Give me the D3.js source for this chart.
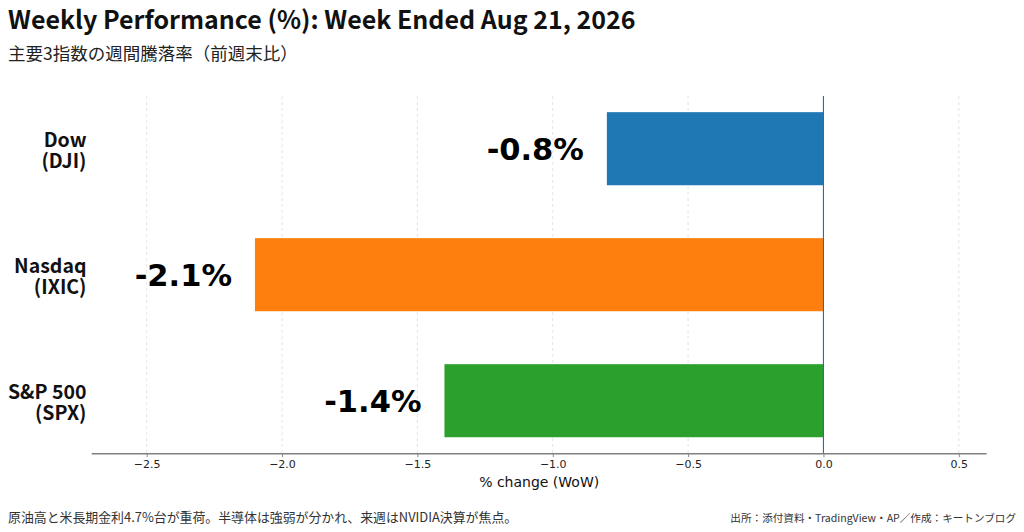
<!DOCTYPE html>
<html><head><meta charset="utf-8">
<script src="https://cdn.jsdelivr.net/npm/d3@7/dist/d3.min.js"></script>
<style>
html,body{margin:0;padding:0;background:#fff;}
svg{display:block;}
</style></head>
<body>
<svg id="chart" width="1024" height="532"></svg>
<script>
const categories = ["Dow|(DJI)", "Nasdaq|(IXIC)", "S&P 500|(SPX)"];
const values = [-0.8, -2.1, -1.4];
const colors = ["#1f77b4", "#ff7f0e", "#2ca02c"];
const xTicks = [-2.5, -2.0, -1.5, -1.0, -0.5, 0.0, 0.5];
const xDomain = [-2.703, 0.603];
const titleText = "Weekly Performance (%): Week Ended Aug 21, 2026";
const subtitleText = "主要3指数の週間騰落率（前週末比）";
const xLabelText = "% change (WoW)";
const noteText = "原油高と米長期金利4.7%台が重荷。半導体は強弱が分かれ、来週はNVIDIA決算が焦点。";
const sourceText = "出所：添付資料・TradingView・AP／作成：キートンブログ";

const svg = d3.select("#chart");
const plot = {left: 91.7, right: 986.7, top: 96, bottom: 453.7};
const CJK = "'Noto Sans CJK JP', 'Noto Sans', sans-serif";
const DV = "'DejaVu Sans', sans-serif";

const x = d3.scaleLinear().domain(xDomain).range([plot.left, plot.right]);
const y = d3.scaleBand().domain(categories).range([85.7, 463.7]).paddingInner(0.42).paddingOuter(0.21);

// grid
svg.append("g").selectAll("line").data(xTicks).join("line")
  .attr("x1", d => x(d)).attr("x2", d => x(d))
  .attr("y1", plot.top).attr("y2", plot.bottom)
  .attr("stroke", "#dddddd").attr("stroke-width", 0.8).attr("stroke-dasharray", "3,3");

// bars
svg.append("g").selectAll("rect").data(values).join("rect")
  .attr("x", d => x(Math.min(0, d)))
  .attr("width", d => Math.abs(x(d) - x(0)))
  .attr("y", (d, i) => y(categories[i]))
  .attr("height", y.bandwidth())
  .attr("fill", (d, i) => colors[i]);

// zero line
svg.append("line")
  .attr("x1", x(0)).attr("x2", x(0)).attr("y1", plot.top).attr("y2", plot.bottom)
  .attr("stroke", "#1f6fb4").attr("stroke-width", 1.1);

// x axis
const axis = d3.axisBottom(x).tickValues(xTicks).tickSize(3.5).tickPadding(3.5)
  .tickFormat(d => d3.format(".1f")(d).replace("-", "\u2212"));
const gx = svg.append("g").attr("transform", `translate(0,${plot.bottom})`).call(axis);
gx.select(".domain").attr("stroke", "#808080").attr("stroke-width", 1.6)
  .attr("d", `M${plot.left},0H${plot.right}`);
gx.selectAll(".tick line").attr("stroke", "#808080").attr("stroke-width", 0.9);
gx.selectAll(".tick text").attr("font-family", DV).attr("font-size", 11).attr("fill", "#222");

svg.append("text").attr("x", (plot.left + plot.right) / 2).attr("y", 486.5)
  .attr("text-anchor", "middle").attr("font-family", DV).attr("font-size", 14).attr("fill", "#111")
  .text(xLabelText);

// category labels
const cat = svg.append("g").selectAll("text").data(categories).join("text")
  .attr("text-anchor", "end").attr("font-family", CJK).attr("font-weight", "bold")
  .attr("font-size", 19.5).attr("fill", "#111");
cat.each(function(d) {
  const c = y(d) + y.bandwidth() / 2;
  const parts = d.split("|");
  d3.select(this).append("tspan").attr("x", 86.5).attr("y", c - 2).text(parts[0]);
  d3.select(this).append("tspan").attr("x", 86.5).attr("y", c + 19).text(parts[1]);
});

// value labels
svg.append("g").selectAll("text").data(values).join("text")
  .attr("x", d => x(d) - 23)
  .attr("y", (d, i) => y(categories[i]) + y.bandwidth() / 2)
  .attr("dy", "0.36em")
  .attr("text-anchor", "end").attr("font-family", DV).attr("font-weight", "bold")
  .attr("font-size", 30.5).attr("fill", "#000")
  .text(d => d.toFixed(1) + "%");

// titles
svg.append("text").attr("x", 8).attr("y", 28.5).attr("font-family", CJK).attr("font-weight", "bold")
  .attr("font-size", 25).attr("fill", "#111").text(titleText);
svg.append("text").attr("x", 8).attr("y", 60).attr("font-family", CJK)
  .attr("font-size", 17.5).attr("fill", "#222").text(subtitleText);

// footer
svg.append("text").attr("x", 8).attr("y", 521.5).attr("font-family", CJK)
  .attr("font-size", 12.9).attr("fill", "#333").text(noteText);
svg.append("text").attr("x", 1016).attr("y", 521.5).attr("text-anchor", "end").attr("font-family", CJK)
  .attr("font-size", 10.6).attr("fill", "#333").text(sourceText);
</script>
</body></html>
